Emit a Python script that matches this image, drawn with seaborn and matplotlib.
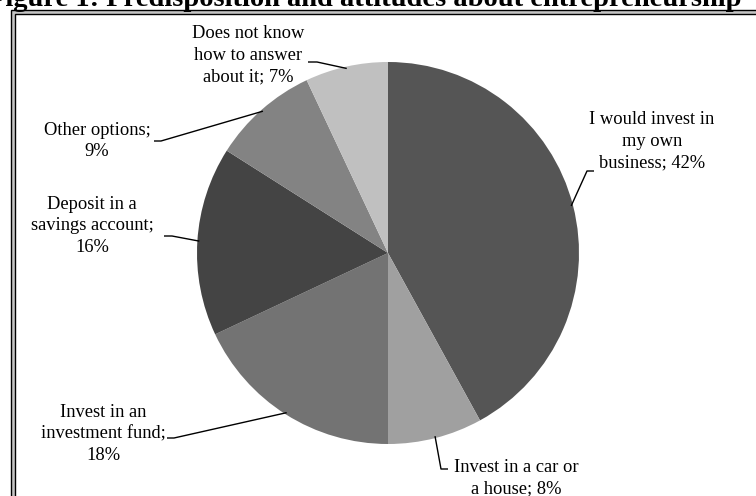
import numpy as np
import matplotlib
matplotlib.use("Agg")
import matplotlib.pyplot as plt
from matplotlib.patches import Rectangle
import seaborn as sns

# ---- data ----
categories = [
    "I would invest in\nmy own\nbusiness",
    "Invest in a car or\na house",
    "Invest in an\ninvestment fund",
    "Deposit in a\nsavings account",
    "Other options",
    "Does not know\nhow to answer\nabout it",
]
values = [42, 8, 18, 16, 9, 7]
label_texts = [
    "I would invest in\nmy own\nbusiness; 42%",
    "Invest in a car or\na house; 8%",
    "Invest in an\ninvestment fund;\n18%",
    "Deposit in a\nsavings account;\n16%",
    "Other options;\n9%",
    "Does not know\nhow to answer\nabout it; 7%",
]
colors = ["#555555", "#a0a0a0", "#737373", "#444444", "#838383", "#c0c0c0"]
title = "Figure 1: Predisposition and attitudes about entrepreneurship"

sns.set_theme(style="white")
plt.rcParams["font.family"] = ["Liberation Serif", "DejaVu Serif"]

W, H = 756, 496
fig = plt.figure(figsize=(W / 100, H / 100), dpi=100)

CX, CY, R = 388, 253, 191  # pie centre / radius in pixels (from top)
ax = fig.add_axes([(CX - R) / W, (H - CY - R) / H, 2 * R / W, 2 * R / H])
ax.set_facecolor("none")

wedges, _ = ax.pie(values, colors=colors, startangle=90, counterclock=False,
                   radius=1, wedgeprops=dict(linewidth=0))
ax.set_xlim(-1, 1)
ax.set_ylim(-1, 1)
ax.set_aspect("equal")
ax.axis("off")


def px2d(px, py):
    return (px - CX) / R, (CY - py) / R


# label layout (pixels): text centre, elbow, end of horizontal segment
layout = [
    dict(tx=652, ty=141, elbow=(587, 171), end=(594, 171)),
    dict(tx=516, ty=478, elbow=(441, 469), end=(448, 469)),
    dict(tx=103, ty=434, elbow=(174, 438), end=(167, 438)),
    dict(tx=92, ty=226, elbow=(172, 236), end=(164, 236)),
    dict(tx=97, ty=141, elbow=(161, 141), end=(154, 141)),
    dict(tx=248, ty=55, elbow=(317, 62), end=(308, 62)),
]

for w, txt, lay in zip(wedges, label_texts, layout):
    ang = np.deg2rad((w.theta1 + w.theta2) / 2)
    ex, ey = np.cos(ang) * 0.99, np.sin(ang) * 0.99
    bx, by = px2d(*lay["elbow"])
    fx, fy = px2d(*lay["end"])
    ax.plot([ex, bx, fx], [ey, by, fy], color="black", lw=1.0,
            solid_capstyle="butt", clip_on=False)
    x, y = px2d(lay["tx"], lay["ty"])
    ax.text(x, y, txt, ha="center", va="center", fontsize=13.3,
            linespacing=1.38, color="black", clip_on=False)

# double frame around the chart (extends past right/bottom edges)
def frect(x0, y0top, x1, y1top, **kw):
    return Rectangle((x0 / W, 1 - y1top / H), (x1 - x0) / W, (y1top - y0top) / H,
                     transform=fig.transFigure, **kw)

fig.add_artist(frect(11, 10, 780, 520, facecolor="#c4c4c4", edgecolor="black",
                     linewidth=1.0, zorder=-3))
fig.add_artist(frect(15, 14, 776, 516, facecolor="white", edgecolor="black",
                     linewidth=1.0, zorder=-2))

fig.text(-12 / W, 1 - 6 / H, title, ha="left", va="baseline", fontsize=20.5,
         fontweight="bold", color="black")

fig.savefig("out.png", dpi=100)
